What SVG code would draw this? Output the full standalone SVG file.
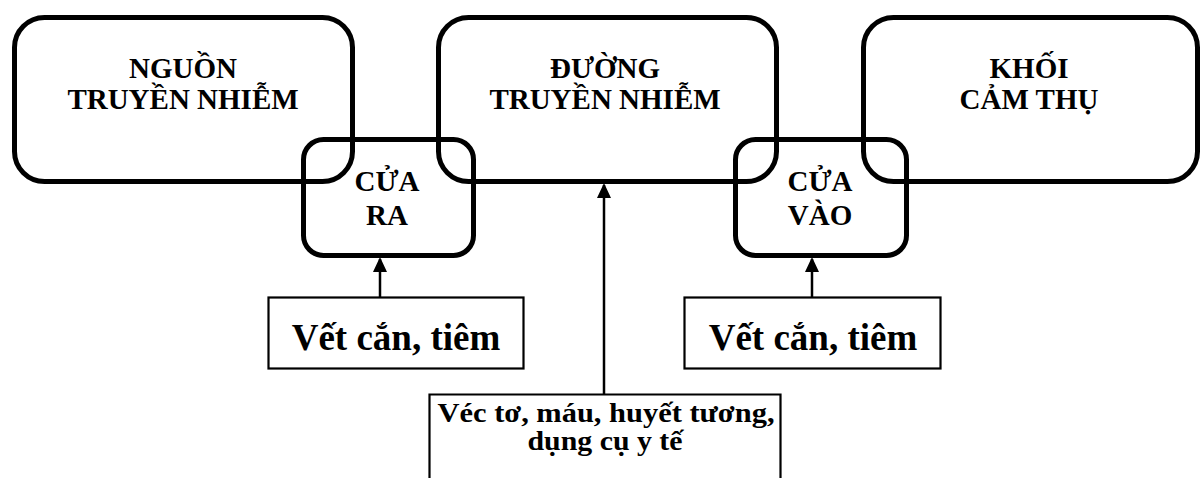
<svg xmlns="http://www.w3.org/2000/svg" width="1202" height="478" viewBox="0 0 1202 478">
<style>
.big{fill:none;stroke:#000;stroke-width:5}
.small{fill:none;stroke:#000;stroke-width:2.2}
.t{font-family:"Liberation Serif","Times New Roman",serif;font-weight:bold;fill:#000;text-anchor:middle}
.h{font-size:29px}
.v{font-size:37px}
.m{font-size:28px}
.conn{stroke:#000;stroke-width:2.5;fill:none}
</style>
<defs>
<marker id="ah" viewBox="0 0 14 16" refX="13" refY="7" markerWidth="14" markerHeight="16" markerUnits="userSpaceOnUse" orient="auto">
<path d="M0,0 L15,7 L0,14 Z" fill="#000"/>
</marker>
</defs>
<rect x="0" y="0" width="1202" height="478" fill="#fff"/>
<g id="nguon">
<rect class="big" x="14.5" y="17.5" width="338" height="164" rx="30"/>
<text class="t h" x="183" y="78">NGUỒN</text>
<text class="t h" x="183" y="109">TRUYỀN NHIỄM</text>
</g>
<g id="duong">
<rect class="big" x="438.5" y="17.5" width="338" height="164" rx="30"/>
<text class="t h" x="605" y="78">ĐƯỜNG</text>
<text class="t h" x="605" y="109">TRUYỀN NHIỄM</text>
</g>
<g id="khoi">
<rect class="big" x="863.5" y="17.5" width="334" height="164" rx="30"/>
<text class="t h" x="1029" y="78">KHỐI</text>
<text class="t h" x="1029" y="109">CẢM THỤ</text>
</g>
<g id="cuara">
<rect class="big" x="303.5" y="139.5" width="170" height="116" rx="20"/>
<text class="t h" x="387" y="191">CỬA</text>
<text class="t h" x="387" y="225">RA</text>
</g>
<g id="cuavao">
<rect class="big" x="735.5" y="139.5" width="171" height="116" rx="20"/>
<text class="t h" x="820" y="191">CỬA</text>
<text class="t h" x="820" y="225">VÀO</text>
</g>
<g id="vetcan1">
<rect class="small" x="268.5" y="297.5" width="255" height="71"/>
<text class="t v" x="396" y="350">Vết cắn, tiêm</text>
</g>
<g id="vetcan2">
<rect class="small" x="684.5" y="297.5" width="256" height="71"/>
<text class="t v" x="813" y="350">Vết cắn, tiêm</text>
</g>
<g id="vecto">
<path class="small" d="M429.5,478 V394.5 H780.5 V478"/>
<text class="t m" x="606" y="422" textLength="337" lengthAdjust="spacingAndGlyphs">Véc tơ, máu, huyết tương,</text>
<text class="t m" x="605" y="450" textLength="155" lengthAdjust="spacingAndGlyphs">dụng cụ y tế</text>
</g>
<g id="connectors">
<line class="conn" x1="380" y1="297" x2="380" y2="259" marker-end="url(#ah)"/>
<line class="conn" x1="812" y1="297" x2="812" y2="259" marker-end="url(#ah)"/>
<line class="conn" x1="604" y1="394" x2="604" y2="185" marker-end="url(#ah)"/>
</g>
</svg>
